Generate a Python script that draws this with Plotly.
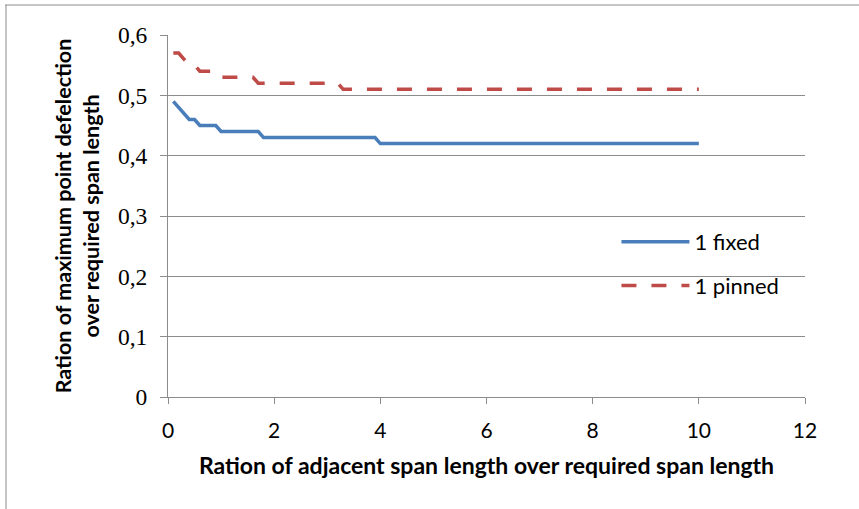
import plotly.graph_objects as go

# Data (breakpoints of the stepped curves)
fixed_x = [0.1, 0.4, 0.5, 0.6, 0.9, 1.0, 1.7, 1.8, 3.9, 4.0, 10.0]
fixed_y = [0.49, 0.46, 0.46, 0.45, 0.45, 0.44, 0.44, 0.43, 0.43, 0.42, 0.42]

pinned_x = [0.1, 0.2, 0.3, 0.4, 0.5, 0.6, 0.9, 1.0, 1.6, 1.7, 3.2, 3.3, 10.0]
pinned_y = [0.57, 0.57, 0.56, 0.55, 0.55, 0.54, 0.54, 0.53, 0.53, 0.52, 0.52, 0.51, 0.51]

series_names = ["1 fixed", "1 pinned"]
x_ticks = [0, 2, 4, 6, 8, 10, 12]
y_ticks = [0, 0.1, 0.2, 0.3, 0.4, 0.5, 0.6]

x_title = "Ration of adjacent span length over required span length"
y_title = "Ration of maximum point defelection<br>over required span length"

sans = "Lato, 'Open Sans', sans-serif"
serif = "'Liberation Serif', 'DejaVu Serif', serif"
grid = "#8c8c8c"

fig = go.Figure()
fig.add_trace(go.Scatter(
    x=fixed_x, y=fixed_y, mode="lines", name=series_names[0],
    line=dict(color="#4A7EBB", width=3.5), legendgroup="a",
))
fig.add_trace(go.Scatter(
    x=pinned_x, y=pinned_y, mode="lines", name=series_names[1],
    line=dict(color="#BE4B48", width=3.5, dash="15px,15px"), legendgroup="b",
))

fig.update_layout(
    width=859, height=509,
    margin=dict(l=168, r=54, t=35, b=112),
    paper_bgcolor="white", plot_bgcolor="white",
    separators=",.",
    showlegend=True,
    legend=dict(
        x=0.704, y=0.486, xanchor="left", yanchor="top",
        font=dict(family=sans, size=22, color="#000000"),
        traceorder="grouped", tracegroupgap=12,
        itemwidth=68,
        bgcolor="rgba(0,0,0,0)",
    ),
    xaxis=dict(
        range=[0, 12], tickvals=x_ticks,
        showgrid=False, zeroline=False,
        showline=True, linecolor=grid, linewidth=1,
        ticks="outside", ticklen=6, tickcolor=grid,
        ticklabelstandoff=9,
        tickfont=dict(family=sans, size=21, color="#000000"),
        title=dict(text=x_title, font=dict(family=sans, size=23, color="#000000", weight="bold"), standoff=16),
    ),
    yaxis=dict(
        range=[0, 0.6], tickvals=y_ticks,
        showgrid=True, gridcolor=grid, gridwidth=1,
        zeroline=False,
        showline=True, linecolor=grid, linewidth=1,
        ticks="outside", ticklen=7, tickcolor=grid,
        ticklabelstandoff=8,
        tickfont=dict(family=serif, size=23.5, color="#000000"),
        title=dict(text=y_title, font=dict(family=sans, size=21.5, color="#000000", weight="bold"), standoff=12),
    ),
    shapes=[
        dict(type="line", xref="paper", yref="paper",
             x0=(5 - 168) / 637, x1=(859 - 168) / 637,
             y0=(397 - 5) / 362, y1=(397 - 5) / 362,
             line=dict(color="#8c8c8c", width=1)),
        dict(type="line", xref="paper", yref="paper",
             x0=(6 - 168) / 637, x1=(6 - 168) / 637,
             y0=(397 - 5) / 362, y1=(397 - 509) / 362,
             line=dict(color="#8c8c8c", width=1)),
    ],
)

fig.write_html("out.html")
